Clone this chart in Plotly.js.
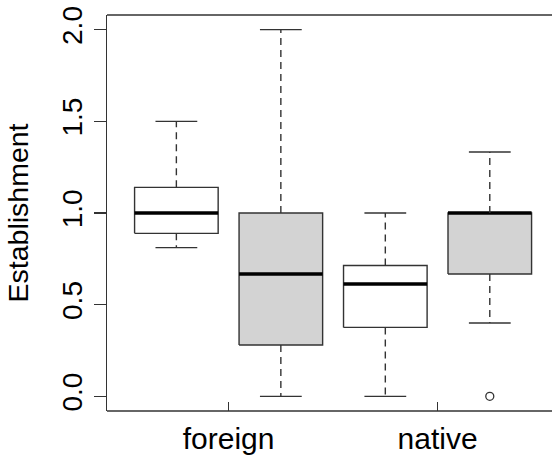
<!DOCTYPE html>
<html>
<head>
<meta charset="utf-8">
<script src="https://cdn.plot.ly/plotly-3.0.1.min.js"></script>
<style>html,body{margin:0;padding:0;background:#fff;overflow:hidden;}#chart{width:560px;height:461px;}</style>
</head>
<body>
<div id="chart"></div>
<script>
// ---- data ----
const boxPositions = [1, 2, 3, 4];
const lowerWhisker = [0.811, 0.0, 0.0, 0.40];
const q1Values     = [0.889, 0.280, 0.376, 0.667];
const medianValues = [1.0, 0.667, 0.613, 1.0];
const q3Values     = [1.140, 1.0, 0.714, 1.0];
const upperWhisker = [1.5, 2.0, 1.0, 1.333];
const outlierPositions = [4];
const outlierValues    = [0.0];
const groupTickPositions = [1.5, 3.5];
const groupTickLabels    = ['foreign', 'native'];
const yTickValues = [0, 0.5, 1.0, 1.5, 2.0];
const yTickLabels = ['0.0', '0.5', '1.0', '1.5', '2.0'];

// ---- styles ----
const boxFills = ['#ffffff', '#d3d3d3', '#ffffff', '#d3d3d3'];
const halfBox = 0.4, halfCap = 0.2;
const lineColor = '#333333';
const fontFamily = 'Liberation Sans, Arial, sans-serif';

const traces = [];
// boxes
boxPositions.forEach((p, i) => {
  traces.push({
    type: 'scatter', mode: 'lines', fill: 'toself', fillcolor: boxFills[i],
    x: [p - halfBox, p + halfBox, p + halfBox, p - halfBox, p - halfBox],
    y: [q1Values[i], q1Values[i], q3Values[i], q3Values[i], q1Values[i]],
    line: {color: lineColor, width: 1.4}, showlegend: false
  });
});
// medians
const mx = [], my = [];
boxPositions.forEach((p, i) => {
  mx.push(p - halfBox, p + halfBox, null);
  my.push(medianValues[i], medianValues[i], null);
});
traces.push({type: 'scatter', mode: 'lines', x: mx, y: my,
  line: {color: '#000000', width: 3.6}, showlegend: false});
// whiskers (dashed)
const wx = [], wy = [];
boxPositions.forEach((p, i) => {
  wx.push(p, p, null, p, p, null);
  wy.push(q3Values[i], upperWhisker[i], null, q1Values[i], lowerWhisker[i], null);
});
traces.push({type: 'scatter', mode: 'lines', x: wx, y: wy,
  line: {color: lineColor, width: 1.4, dash: '7px,5px'}, showlegend: false});
// caps
const cx = [], cy = [];
boxPositions.forEach((p, i) => {
  cx.push(p - halfCap, p + halfCap, null, p - halfCap, p + halfCap, null);
  cy.push(upperWhisker[i], upperWhisker[i], null, lowerWhisker[i], lowerWhisker[i], null);
});
traces.push({type: 'scatter', mode: 'lines', x: cx, y: cy,
  line: {color: lineColor, width: 1.4}, showlegend: false});
// outliers
traces.push({type: 'scatter', mode: 'markers', x: outlierPositions, y: outlierValues,
  marker: {symbol: 'circle-open', size: 8, color: lineColor, line: {width: 1.3}},
  showlegend: false});

const layout = {
  width: 560, height: 461,
  margin: {l: 107, r: 0, t: 15, b: 50},
  paper_bgcolor: '#ffffff', plot_bgcolor: '#ffffff',
  font: {family: fontFamily, size: 28, color: '#000000'},
  showlegend: false,
  // plot frame: bottom and top edges
  shapes: [
    {type: 'line', xref: 'paper', yref: 'paper', x0: 0, x1: 1, y0: 0, y1: 0,
     line: {color: lineColor, width: 1.4}, layer: 'above'},
    {type: 'line', xref: 'paper', yref: 'paper', x0: 0, x1: 1, y0: 1, y1: 1,
     line: {color: lineColor, width: 1.4}, layer: 'above'}
  ],
  xaxis: {
    range: [0.336, 4.672], showgrid: false, zeroline: false,
    showline: false,
    tickmode: 'array', tickvals: groupTickPositions, ticktext: groupTickLabels,
    ticks: 'inside', ticklen: 9, tickwidth: 1.4, tickcolor: lineColor,
    tickfont: {family: fontFamily, size: 30, color: '#000000'},
    ticklabelstandoff: 7
  },
  yaxis: {
    range: [-0.08, 2.08], showgrid: false, zeroline: false,
    showline: true, linecolor: lineColor, linewidth: 1.4,
    tickmode: 'array', tickvals: yTickValues, ticktext: yTickLabels,
    ticks: 'outside', ticklen: 12, tickwidth: 1.4, tickcolor: lineColor,
    tickangle: -90,
    tickfont: {family: fontFamily, size: 28, color: '#000000'},
    title: {text: 'Establishment', font: {family: fontFamily, size: 28.5, color: '#000000'}, standoff: 20}
  }
};

Plotly.newPlot('chart', traces, layout, {staticPlot: true, displayModeBar: false});
</script>
</body>
</html>
